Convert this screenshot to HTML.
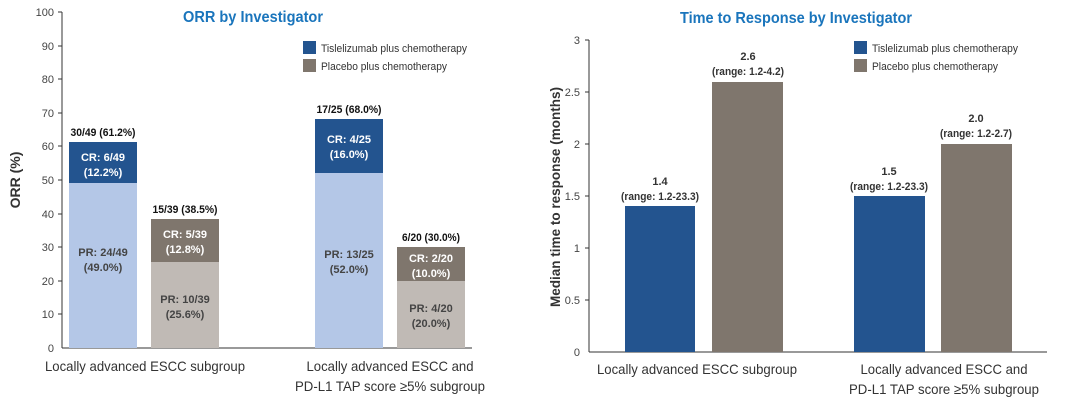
<!DOCTYPE html>
<html><head><meta charset="utf-8"><style>
body{margin:0;background:#fff}
svg{display:block;font-family:"Liberation Sans",sans-serif}
</style></head><body>
<svg width="1080" height="404" viewBox="0 0 1080 404">
<!-- LEFT -->
<text x="253" y="22" fill="#1a75bc" font-size="16" font-weight="bold" text-anchor="middle" textLength="140" lengthAdjust="spacingAndGlyphs">ORR by Investigator</text>
<g font-size="11" fill="#444" text-anchor="end">
<text x="54" y="352">0</text><text x="54" y="318">10</text><text x="54" y="285">20</text><text x="54" y="251">30</text><text x="54" y="218">40</text><text x="54" y="184">50</text><text x="54" y="150">60</text><text x="54" y="117">70</text><text x="54" y="83">80</text><text x="54" y="50">90</text><text x="54" y="16">100</text>
</g>
<g stroke="#333" stroke-width="1">
<line x1="62" y1="12" x2="62" y2="348"/><line x1="62" y1="348" x2="472" y2="348"/>
<line x1="58" y1="12" x2="62" y2="12"/><line x1="58" y1="46" x2="62" y2="46"/><line x1="58" y1="79" x2="62" y2="79"/><line x1="58" y1="113" x2="62" y2="113"/><line x1="58" y1="146" x2="62" y2="146"/><line x1="58" y1="180" x2="62" y2="180"/><line x1="58" y1="214" x2="62" y2="214"/><line x1="58" y1="247" x2="62" y2="247"/><line x1="58" y1="281" x2="62" y2="281"/><line x1="58" y1="314" x2="62" y2="314"/>
</g>
<text transform="translate(20,180) rotate(-90)" font-size="14" font-weight="bold" fill="#333" text-anchor="middle">ORR (%)</text>
<rect x="69" y="183" width="68" height="165" fill="#b4c7e7"/>
<rect x="69" y="142" width="68" height="41" fill="#23548f"/>
<rect x="151" y="262" width="68" height="86" fill="#c0bab5"/>
<rect x="151" y="219" width="68" height="43" fill="#7f766d"/>
<rect x="315" y="173" width="68" height="175" fill="#b4c7e7"/>
<rect x="315" y="119" width="68" height="54" fill="#23548f"/>
<rect x="397" y="281" width="68" height="67" fill="#c0bab5"/>
<rect x="397" y="247" width="68" height="34" fill="#7f766d"/>
<g font-size="11" font-weight="bold" text-anchor="middle">
<text x="103" y="136" fill="#111" textLength="65" lengthAdjust="spacingAndGlyphs">30/49 (61.2%)</text>
<text x="185" y="213" fill="#111" textLength="65" lengthAdjust="spacingAndGlyphs">15/39 (38.5%)</text>
<text x="349" y="113" fill="#111" textLength="65" lengthAdjust="spacingAndGlyphs">17/25 (68.0%)</text>
<text x="431" y="241" fill="#111" textLength="58" lengthAdjust="spacingAndGlyphs">6/20 (30.0%)</text>
<text x="103" y="161" fill="#fff">CR: 6/49</text><text x="103" y="176" fill="#fff">(12.2%)</text>
<text x="103" y="256" fill="#444">PR: 24/49</text><text x="103" y="271" fill="#444">(49.0%)</text>
<text x="185" y="238" fill="#fff">CR: 5/39</text><text x="185" y="253" fill="#fff">(12.8%)</text>
<text x="185" y="303" fill="#444">PR: 10/39</text><text x="185" y="318" fill="#444">(25.6%)</text>
<text x="349" y="143" fill="#fff">CR: 4/25</text><text x="349" y="158" fill="#fff">(16.0%)</text>
<text x="349" y="258" fill="#444">PR: 13/25</text><text x="349" y="273" fill="#444">(52.0%)</text>
<text x="431" y="262" fill="#fff">CR: 2/20</text><text x="431" y="277" fill="#fff">(10.0%)</text>
<text x="431" y="312" fill="#444">PR: 4/20</text><text x="431" y="327" fill="#444">(20.0%)</text>
</g>
<rect x="303" y="41" width="13" height="13" fill="#23548f"/>
<rect x="303" y="59" width="13" height="13" fill="#7f766d"/>
<text x="321" y="52" font-size="11" fill="#333" textLength="146" lengthAdjust="spacingAndGlyphs">Tislelizumab plus chemotherapy</text>
<text x="321" y="70" font-size="11" fill="#333" textLength="126" lengthAdjust="spacingAndGlyphs">Placebo plus chemotherapy</text>
<g font-size="14" fill="#333" text-anchor="middle">
<text x="145" y="371" textLength="200" lengthAdjust="spacingAndGlyphs">Locally advanced ESCC subgroup</text>
<text x="390" y="371" textLength="167" lengthAdjust="spacingAndGlyphs">Locally advanced ESCC and</text>
<text x="390" y="391" textLength="190" lengthAdjust="spacingAndGlyphs">PD-L1 TAP score ≥5% subgroup</text>
</g>
<!-- RIGHT -->
<text x="796" y="23" fill="#1a75bc" font-size="16" font-weight="bold" text-anchor="middle" textLength="232" lengthAdjust="spacingAndGlyphs">Time to Response by Investigator</text>
<g font-size="11" fill="#444" text-anchor="end">
<text x="580" y="356">0</text><text x="580" y="304">0.5</text><text x="580" y="252">1</text><text x="580" y="200">1.5</text><text x="580" y="148">2</text><text x="580" y="96">2.5</text><text x="580" y="44">3</text>
</g>
<g stroke="#333" stroke-width="1">
<line x1="589" y1="40" x2="589" y2="352"/><line x1="589" y1="352" x2="1047" y2="352"/>
<line x1="585" y1="40" x2="589" y2="40"/><line x1="585" y1="92" x2="589" y2="92"/><line x1="585" y1="144" x2="589" y2="144"/><line x1="585" y1="196" x2="589" y2="196"/><line x1="585" y1="248" x2="589" y2="248"/><line x1="585" y1="300" x2="589" y2="300"/>
</g>
<text transform="translate(560,197) rotate(-90)" font-size="14" font-weight="bold" fill="#333" text-anchor="middle" textLength="220" lengthAdjust="spacingAndGlyphs">Median time to response (months)</text>
<rect x="625" y="206" width="70" height="146" fill="#23548f"/>
<rect x="712" y="82" width="71" height="270" fill="#7f766d"/>
<rect x="854" y="196" width="71" height="156" fill="#23548f"/>
<rect x="941" y="144" width="71" height="208" fill="#7f766d"/>
<g font-size="11" font-weight="bold" fill="#333" text-anchor="middle">
<text x="660" y="185">1.4</text><text x="660" y="200" textLength="78" lengthAdjust="spacingAndGlyphs">(range: 1.2-23.3)</text>
<text x="748" y="60">2.6</text><text x="748" y="75" textLength="72" lengthAdjust="spacingAndGlyphs">(range: 1.2-4.2)</text>
<text x="889" y="175">1.5</text><text x="889" y="190" textLength="78" lengthAdjust="spacingAndGlyphs">(range: 1.2-23.3)</text>
<text x="976" y="122">2.0</text><text x="976" y="137" textLength="72" lengthAdjust="spacingAndGlyphs">(range: 1.2-2.7)</text>
</g>
<rect x="854" y="41" width="13" height="13" fill="#23548f"/>
<rect x="854" y="59" width="13" height="13" fill="#7f766d"/>
<text x="872" y="52" font-size="11" fill="#333" textLength="146" lengthAdjust="spacingAndGlyphs">Tislelizumab plus chemotherapy</text>
<text x="872" y="70" font-size="11" fill="#333" textLength="126" lengthAdjust="spacingAndGlyphs">Placebo plus chemotherapy</text>
<g font-size="14" fill="#333" text-anchor="middle">
<text x="697" y="374" textLength="200" lengthAdjust="spacingAndGlyphs">Locally advanced ESCC subgroup</text>
<text x="944" y="374" textLength="167" lengthAdjust="spacingAndGlyphs">Locally advanced ESCC and</text>
<text x="944" y="394" textLength="190" lengthAdjust="spacingAndGlyphs">PD-L1 TAP score ≥5% subgroup</text>
</g>
</svg>
</body></html>
